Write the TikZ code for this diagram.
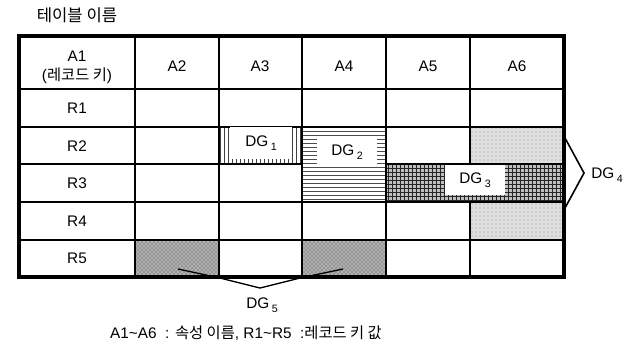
\documentclass[tikz,border=0pt]{standalone}
\usepackage{fontspec}
\setmainfont{Liberation Sans}
\newfontfamily\kr{Noto Sans CJK KR}
\usetikzlibrary{patterns}

\newcommand{\dglabel}[1]{DG\,\raisebox{-0.5ex}{\fontsize{8}{9}\selectfont #1}}

\tikzset{
    gridline/.style={line width=1.4pt},
    border/.style={line width=2.8pt},
    dgbox/.style={fill=white, inner sep=0pt},
    dgone/.style={pattern=vertical lines, pattern color=black!75},
    dgtwo/.style={pattern=horizontal lines, pattern color=black!70},
    dgthree/.style={fill=gray!50, postaction={pattern=grid, pattern color=black!85}},
    dgfour/.style={fill=gray!25, postaction={pattern=dots, pattern color=gray!85}},
    dgfive/.style={fill=gray!60, postaction={pattern=crosshatch dots, pattern color=black!80}},
}

\begin{document}
\begin{tikzpicture}[x=0.75pt,y=-0.75pt,font=\fontsize{11.5}{13}\selectfont]
    \useasboundingbox (0,0) rectangle (634,344);

    % shaded data groups
    \fill[dgone] (219,127) rectangle (302,164);
    \fill[dgtwo] (302,127) rectangle (386,202);
    \fill[dgthree] (386,164) rectangle (564,202);
    \fill[dgfour] (470,127) rectangle (564,164);
    \fill[dgfour] (470,202) rectangle (564,240);
    \fill[dgfive] (135,240) rectangle (219,277);
    \fill[dgfive] (302,240) rectangle (386,277);

    % grid
    \foreach \y in {89,127,202,240}
        \draw[gridline] (19,\y) -- (564,\y);
    \draw[gridline] (19,164) -- (302,164);
    \draw[gridline] (386,164) -- (564,164);
    \foreach \x in {135,219,302,386}
        \draw[gridline] (\x,36) -- (\x,277);
    \draw[gridline] (470,36) -- (470,164);
    \draw[gridline] (470,202) -- (470,277);
    \draw[border] (19,36) rectangle (564,277);

    % title and headers
    \node (title) at (77,15) {\fontsize{12.5}{14}\selectfont\kr 테이블 이름};
    \node[align=center] (a1) at (77,67) {A1\\[1pt]({\kr 레코드 키})};
    \foreach \n/\x in {2/177,3/260,4/344,5/428,6/517}
        \node (a\n) at (\x,66) {A\n};
    \foreach \n/\y in {1/108,2/146,3/183,4/221,5/258}
        \node (r\n) at (77,\y) {R\n};

    % group labels
    \node[dgbox, minimum width=46.5pt, minimum height=24pt] (dg1) at (261,143) {\dglabel{1}};
    \node[dgbox, minimum width=45pt, minimum height=22pt] (dg2) at (347,152) {\dglabel{2}};
    \node[dgbox, minimum width=45pt, minimum height=22pt] (dg3) at (475,180) {\dglabel{3}};
    \node (dg4) at (607,175) {\dglabel{4}};
    \node (dg5) at (262,305) {\dglabel{5}};

    % brackets
    \coordinate (b4s) at (565,138);
    \coordinate (b4m) at (584,173);
    \coordinate (b4e) at (565,208);
    \draw[line width=1.2pt] (b4s) -- (b4m) -- (b4e);
    \coordinate (b5s) at (178,269);
    \coordinate (b5l) at (220,278);
    \coordinate (b5m) at (260,288);
    \coordinate (b5r) at (300,278);
    \coordinate (b5e) at (343,269);
    \draw[line width=1pt] (b5s) -- (b5l) -- (b5m) -- (b5r) -- (b5e);

    % legend
    \node (legend) at (246,333) {A1\textasciitilde A6 \ : {\kr 속성 이름}, R1\textasciitilde R5 \ :{\kr 레코드 키 값}};
\end{tikzpicture}
\end{document}
